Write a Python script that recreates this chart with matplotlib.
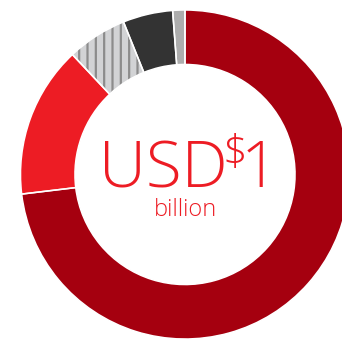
import matplotlib
matplotlib.use("Agg")
import matplotlib.pyplot as plt

# Share of the total, clockwise from 12 o'clock
segments = ["Segment A", "Segment B", "Segment C", "Segment D", "Segment E"]
shares = [73.1, 14.9, 5.9, 4.9, 1.2]
colors = ["#A5000F", "#ED1C24", "#D2D3D5", "#333333", "#ADADAD"]
hatches = [None, None, "||", None, None]

total_amount = "1"
currency = "USD"
unit = "billion"

plt.rcParams["hatch.linewidth"] = 1.6

W, H = 342, 340
fig = plt.figure(figsize=(W / 100, H / 100), dpi=100)
ax = fig.add_axes([0, 0, 1, 1])

R = 1.0
ring = 0.331
wedges, _ = ax.pie(shares, colors=colors, startangle=90, counterclock=False,
                   radius=R, wedgeprops=dict(width=ring, linewidth=0,
                                             edgecolor="#8C8C8C"))
for w, h in zip(wedges, hatches):
    if h:
        w.set_hatch(h)

# thin white separators between the segments
ax.pie(shares, colors=["none"] * len(shares), startangle=90, counterclock=False,
       radius=R, wedgeprops=dict(width=ring, linewidth=1.1, edgecolor="white",
                                 fill=False))

# place the ring centre at (185, 174.5) px with a radius of 164.5 px
scale = 164.5
cx, cy = 185, 174.5
ax.set_aspect("auto")
ax.set_xlim(-cx / scale, (W - cx) / scale)
ax.set_ylim(-(H - cy) / scale, cy / scale)
ax.axis("off")

red = "#ED1C24"
font = dict(family=["Open Sans", "DejaVu Sans"], weight="light", color=red)
ax.text(-0.52, -0.076, currency, fontsize=47, ha="left", va="baseline", **font)
ax.text(0.225, 0.055, "$", fontsize=31, ha="left", va="baseline", **font)
ax.text(0.337, -0.076, total_amount, fontsize=47, ha="left", va="baseline", **font)
ax.text(0.0, -0.250, unit, fontsize=17, ha="center", va="baseline", **font)

fig.savefig("out.png", dpi=100)
